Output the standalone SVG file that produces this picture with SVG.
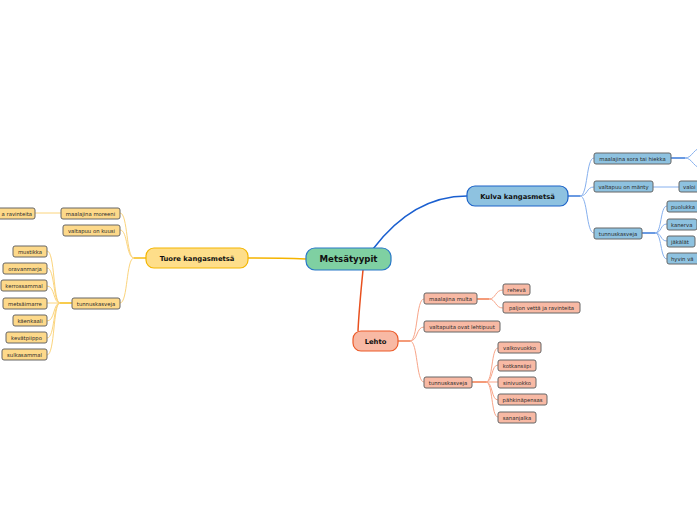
<svg xmlns="http://www.w3.org/2000/svg" width="697" height="520" viewBox="0 0 697 520">
<style>
text{font-family:"DejaVu Sans","Verdana",sans-serif;fill:#2a2a2a;text-anchor:middle}
.s{font-size:5.3px}
.m{font-size:6.8px;font-weight:bold;fill:#111}
.c{font-size:8.6px;font-weight:bold;fill:#111}
.n rect{stroke:#666;stroke-width:1}
.k rect{fill:#8ec2e0}
.t rect{fill:#fdd98a}
.l rect{fill:#f8b9a4}
.lines path{fill:none}
.kb{stroke:#2a6fd6;stroke-width:1.4}
.kl{stroke:#86b0ee;stroke-width:1}
.tb{stroke:#f5b700;stroke-width:1.4}
.tl{stroke:#fbd47c;stroke-width:1}
.lb{stroke:#f07040;stroke-width:1.4}
.ll{stroke:#f8a589;stroke-width:1}
</style>
<rect width="697" height="520" fill="#fff"/>
<g id="connectors" class="lines">
<path d="M373,249 C395,220 425,196 467,196" stroke="#1a5fd0" stroke-width="1.5"/>
<path d="M306,259 C280,258 270,258 248,258" stroke="#f5b400" stroke-width="1.5"/>
<path d="M363,270 C361,290 359,310 358,331" stroke="#e8501e" stroke-width="1.5"/>
<path class="lb" d="M398,341 L410,341"/>
<path class="ll" d="M410,341 C418,341 416,299 424,299 M410,341 C418,341 416,327 424,327 M410,341 C418,341 416,382 424,382"/>
<path class="lb" d="M477,299 L489,299"/>
<path class="ll" d="M489,299 C496,299 495,290 503,290 M489,299 C496,299 495,308 503,308"/>
<path class="lb" d="M472,382 L486,382"/>
<path class="ll" d="M486,382 C493,382 491,348 498,348 M486,382 C493,382 491,365 498,365 M486,382 L498,382 M486,382 C493,382 491,400 498,400 M486,382 C493,382 491,417 498,417"/>
<path class="tb" d="M146,258 L134,258"/>
<path class="tl" d="M134,258 C126,258 128,213 120,213 M134,258 C126,258 128,230 120,230 M134,258 C126,258 128,303 120,303"/>
<path class="tl" d="M61,213 L35,213"/>
<path class="tb" d="M72,303 L60,303"/>
<path class="tl" d="M60,303 C53,303 55,251 47,251 M60,303 C53,303 55,268 47,268 M60,303 C53,303 55,286 47,286 M60,303 L47,303 M60,303 C53,303 55,321 47,321 M60,303 C53,303 55,338 47,338 M60,303 C53,303 55,355 47,355"/>
<path class="kb" d="M568,196 L580,196"/>
<path class="kl" d="M580,196 C588,196 586,158 594,158 M580,196 C588,196 586,187 594,187 M580,196 C588,196 586,233 594,233"/>
<path class="kb" d="M671,158 L685,158"/>
<path class="kl" d="M685,158 C693,158 693,147 705,147 M685,158 C693,158 693,169 705,169"/>
<path class="kl" d="M653,187 L679,187"/>
<path class="kb" d="M642,233 L655,233"/>
<path class="kl" d="M655,233 C662,233 660,206 667,206 M655,233 C662,233 660,224 667,224 M655,233 C662,233 660,241 667,241 M655,233 C662,233 660,259 667,259"/>
</g>
<g id="metsatyypit"><rect x="306" y="248" width="85" height="22" rx="9" fill="#7fd0a2" stroke="#2878c8" stroke-width="1.2"/><text class="c" x="348.5" y="262.2">Metsätyypit</text></g>
<g id="kulva"><rect x="467" y="186" width="101" height="20" rx="8" fill="#8ec2e0" stroke="#1d63c8" stroke-width="1.2"/><text class="m" x="517.5" y="198.5">Kulva kangasmetsä</text></g>
<g id="tuore"><rect x="146" y="248" width="102" height="20" rx="8" fill="#fede8a" stroke="#f3b500" stroke-width="1.2"/><text class="m" x="197" y="260.5">Tuore kangasmetsä</text></g>
<g id="lehto"><rect x="353" y="331" width="45" height="20" rx="8" fill="#f8b9a4" stroke="#ec5a28" stroke-width="1.2"/><text class="m" x="375.5" y="343.5">Lehto</text></g>
<g class="n t">
<g id="t-ravinteita"><rect x="-20" y="208" width="55" height="11" rx="2"/><text class="s" x="32" y="215.5" style="text-anchor:end">a ravinteita</text></g>
<g id="t-moreeni"><rect x="61" y="208" width="59" height="11" rx="2"/><text class="s" x="90.5" y="215.5">maalajina moreeni</text></g>
<g id="t-kuusi"><rect x="63" y="225" width="57" height="11" rx="2"/><text class="s" x="91.5" y="232.5">valtapuu on kuusi</text></g>
<g id="t-tunnus"><rect x="72" y="298" width="48" height="11" rx="2"/><text class="s" x="96" y="305.5">tunnuskasveja</text></g>
<g id="t-mustikka"><rect x="13" y="246" width="34" height="11" rx="2"/><text class="s" x="30" y="253.5">mustikka</text></g>
<g id="t-oravanmarja"><rect x="3" y="263" width="44" height="11" rx="2"/><text class="s" x="25" y="270.5">oravanmarja</text></g>
<g id="t-kerrossammal"><rect x="1" y="280" width="46" height="11" rx="2"/><text class="s" x="24" y="287.5">kerrossammal</text></g>
<g id="t-metsaimarre"><rect x="3" y="298" width="44" height="11" rx="2"/><text class="s" x="25" y="305.5">metsäimarre</text></g>
<g id="t-kaenkaali"><rect x="13" y="315" width="34" height="11" rx="2"/><text class="s" x="30" y="322.5">käenkaali</text></g>
<g id="t-kevatpiippo"><rect x="6" y="332" width="41" height="11" rx="2"/><text class="s" x="26.5" y="339.5">kevätpiippo</text></g>
<g id="t-sulkasammal"><rect x="2" y="349" width="45" height="11" rx="2"/><text class="s" x="24.5" y="356.5">sulkasammal</text></g>
</g>
<g class="n l">
<g id="l-multa"><rect x="424" y="293" width="53" height="11" rx="2"/><text class="s" x="450.5" y="300.5">maalajina multa</text></g>
<g id="l-reheva"><rect x="503" y="284" width="27" height="11" rx="2"/><text class="s" x="516.5" y="291.5">rehevä</text></g>
<g id="l-paljon"><rect x="503" y="302" width="77" height="11" rx="2"/><text class="s" x="541.5" y="309.5">paljon vettä ja ravinteita</text></g>
<g id="l-lehtipuut"><rect x="424" y="321" width="76" height="11" rx="2"/><text class="s" x="462" y="328.5">valtapuita ovat lehtipuut</text></g>
<g id="l-tunnus"><rect x="424" y="377" width="48" height="11" rx="2"/><text class="s" x="448" y="384.5">tunnuskasveja</text></g>
<g id="l-valkovuokko"><rect x="498" y="342" width="43" height="11" rx="2"/><text class="s" x="519.5" y="349.5">valkovuokko</text></g>
<g id="l-kotkansiipi"><rect x="498" y="360" width="38" height="11" rx="2"/><text class="s" x="517" y="367.5">kotkansiipi</text></g>
<g id="l-sinivuokko"><rect x="498" y="377" width="38" height="11" rx="2"/><text class="s" x="517" y="384.5">sinivuokko</text></g>
<g id="l-pahkinapensas"><rect x="498" y="394" width="49" height="11" rx="2"/><text class="s" x="522.5" y="401.5">pähkinäpensas</text></g>
<g id="l-sananjalka"><rect x="498" y="412" width="38" height="11" rx="2"/><text class="s" x="517" y="419.5">sananjalka</text></g>
</g>
<g class="n k">
<g id="k-sora"><rect x="594" y="153" width="77" height="11" rx="2"/><text class="s" x="632.5" y="160.5">maalajina sora tai hiekka</text></g>
<g id="k-manty"><rect x="594" y="181" width="59" height="11" rx="2"/><text class="s" x="623.5" y="188.5">valtapuu on mänty</text></g>
<g id="k-valoi"><rect x="679" y="181" width="30" height="11" rx="2"/><text class="s" x="683" y="188.5" style="text-anchor:start">valoi</text></g>
<g id="k-tunnus"><rect x="594" y="228" width="48" height="11" rx="2"/><text class="s" x="618" y="235.5">tunnuskasveja</text></g>
<g id="k-puolukka"><rect x="667" y="201" width="40" height="11" rx="2"/><text class="s" x="671" y="208.5" style="text-anchor:start">puolukka</text></g>
<g id="k-kanerva"><rect x="667" y="219" width="30" height="11" rx="2"/><text class="s" x="671" y="226.5" style="text-anchor:start">kanerva</text></g>
<g id="k-jakalat"><rect x="667" y="236" width="28" height="11" rx="2"/><text class="s" x="671" y="243.5" style="text-anchor:start">jäkälät</text></g>
<g id="k-hyvin"><rect x="667" y="253" width="40" height="11" rx="2"/><text class="s" x="671" y="260.5" style="text-anchor:start">hyvin vä</text></g>
</g>
</svg>
